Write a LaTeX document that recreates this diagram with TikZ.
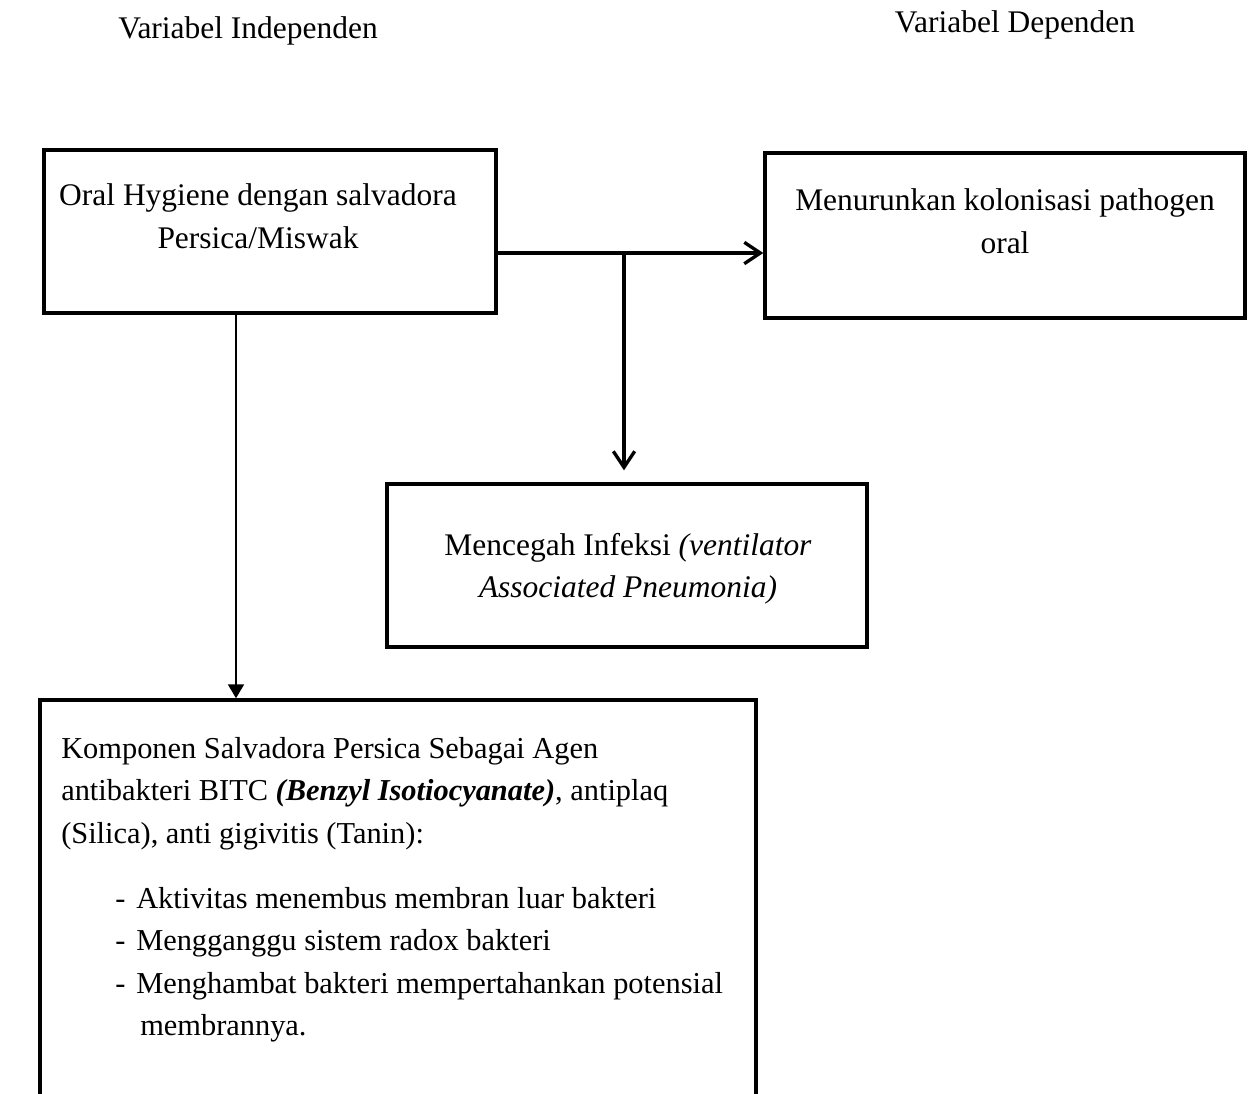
\documentclass[tikz,border=0pt]{standalone}
\usepackage{fontspec}
\setmainfont{Liberation Serif}
\usetikzlibrary{arrows.meta}
\begin{document}
\begin{tikzpicture}[x=0.75pt,y=-0.75pt,
  box/.style={draw,line width=2.6pt,rectangle,inner sep=0pt},
  txt/.style={font=\fontsize{23.6}{28}\selectfont,inner sep=0pt,anchor=base},
  ltxt/.style={font=\fontsize{22.8}{27}\selectfont,inner sep=0pt,anchor=base west},
  barb/.style={line width=2.5pt,-{Straight Barb[length=12pt,width=16pt,line width=2.5pt]}},
  thin/.style={line width=1.5pt,-{Triangle[length=10.5pt,width=12pt]}}]
\clip (0,0) rectangle (1251,1093);
\fill[white] (0,0) rectangle (1251,1093);
% headings
\node[txt] (h1) at (248,38) {Variabel Independen};
\node[txt] (h2) at (1015,32) {Variabel Dependen};
% boxes
\node[box,minimum width=339pt,minimum height=122.25pt] (A) at (270,231.5) {};
\node[box,minimum width=360pt,minimum height=123.75pt] (B) at (1005,235.5) {};
\node[box,minimum width=360pt,minimum height=122.25pt] (C) at (627,565.5) {};
\node[box,minimum width=537pt,minimum height=375pt] (D) at (398,950) {};
% box texts
\node[txt] (a1) at (258,205) {Oral Hygiene dengan salvadora};
\node[txt] (a2) at (258,248) {Persica/Miswak};
\node[txt] (b1) at (1005,210) {Menurunkan kolonisasi pathogen};
\node[txt] (b2) at (1005,253) {oral};
\node[txt] (c1) at (628,555) {Mencegah Infeksi \textit{(ventilator}};
\node[txt] (c2) at (628,597) {\textit{Associated Pneumonia)}};
\node[ltxt] (d1) at (61,758) {Komponen Salvadora Persica Sebagai Agen};
\node[ltxt] (d2) at (61,800) {antibakteri BITC \textit{\textbf{(Benzyl Isotiocyanate)}}, antiplaq};
\node[ltxt] (d3) at (61,843) {(Silica), anti gigivitis (Tanin):};
\node[ltxt] (m4) at (115,908) {-};
\node[ltxt] (d4) at (136,908) {Aktivitas menembus membran luar bakteri};
\node[ltxt] (m5) at (115,950) {-};
\node[ltxt] (d5) at (136,950) {Mengganggu sistem radox bakteri};
\node[ltxt] (m6) at (115,993) {-};
\node[ltxt] (d6) at (136,993) {Menghambat bakteri mempertahankan potensial};
\node[ltxt] (d7) at (140,1035) {membrannya.};
% connectors
\coordinate (h0) at (A.east |- 0,253);
\coordinate (j) at (624,253);
\draw[barb] (h0) -- (h0 -| B.west);
\draw[barb,shorten >=9pt] (j) -- (j |- C.north);
\coordinate (t0) at (236,0);
\draw[thin] (t0 |- A.south) -- (t0 |- D.north);
\end{tikzpicture}
\end{document}
